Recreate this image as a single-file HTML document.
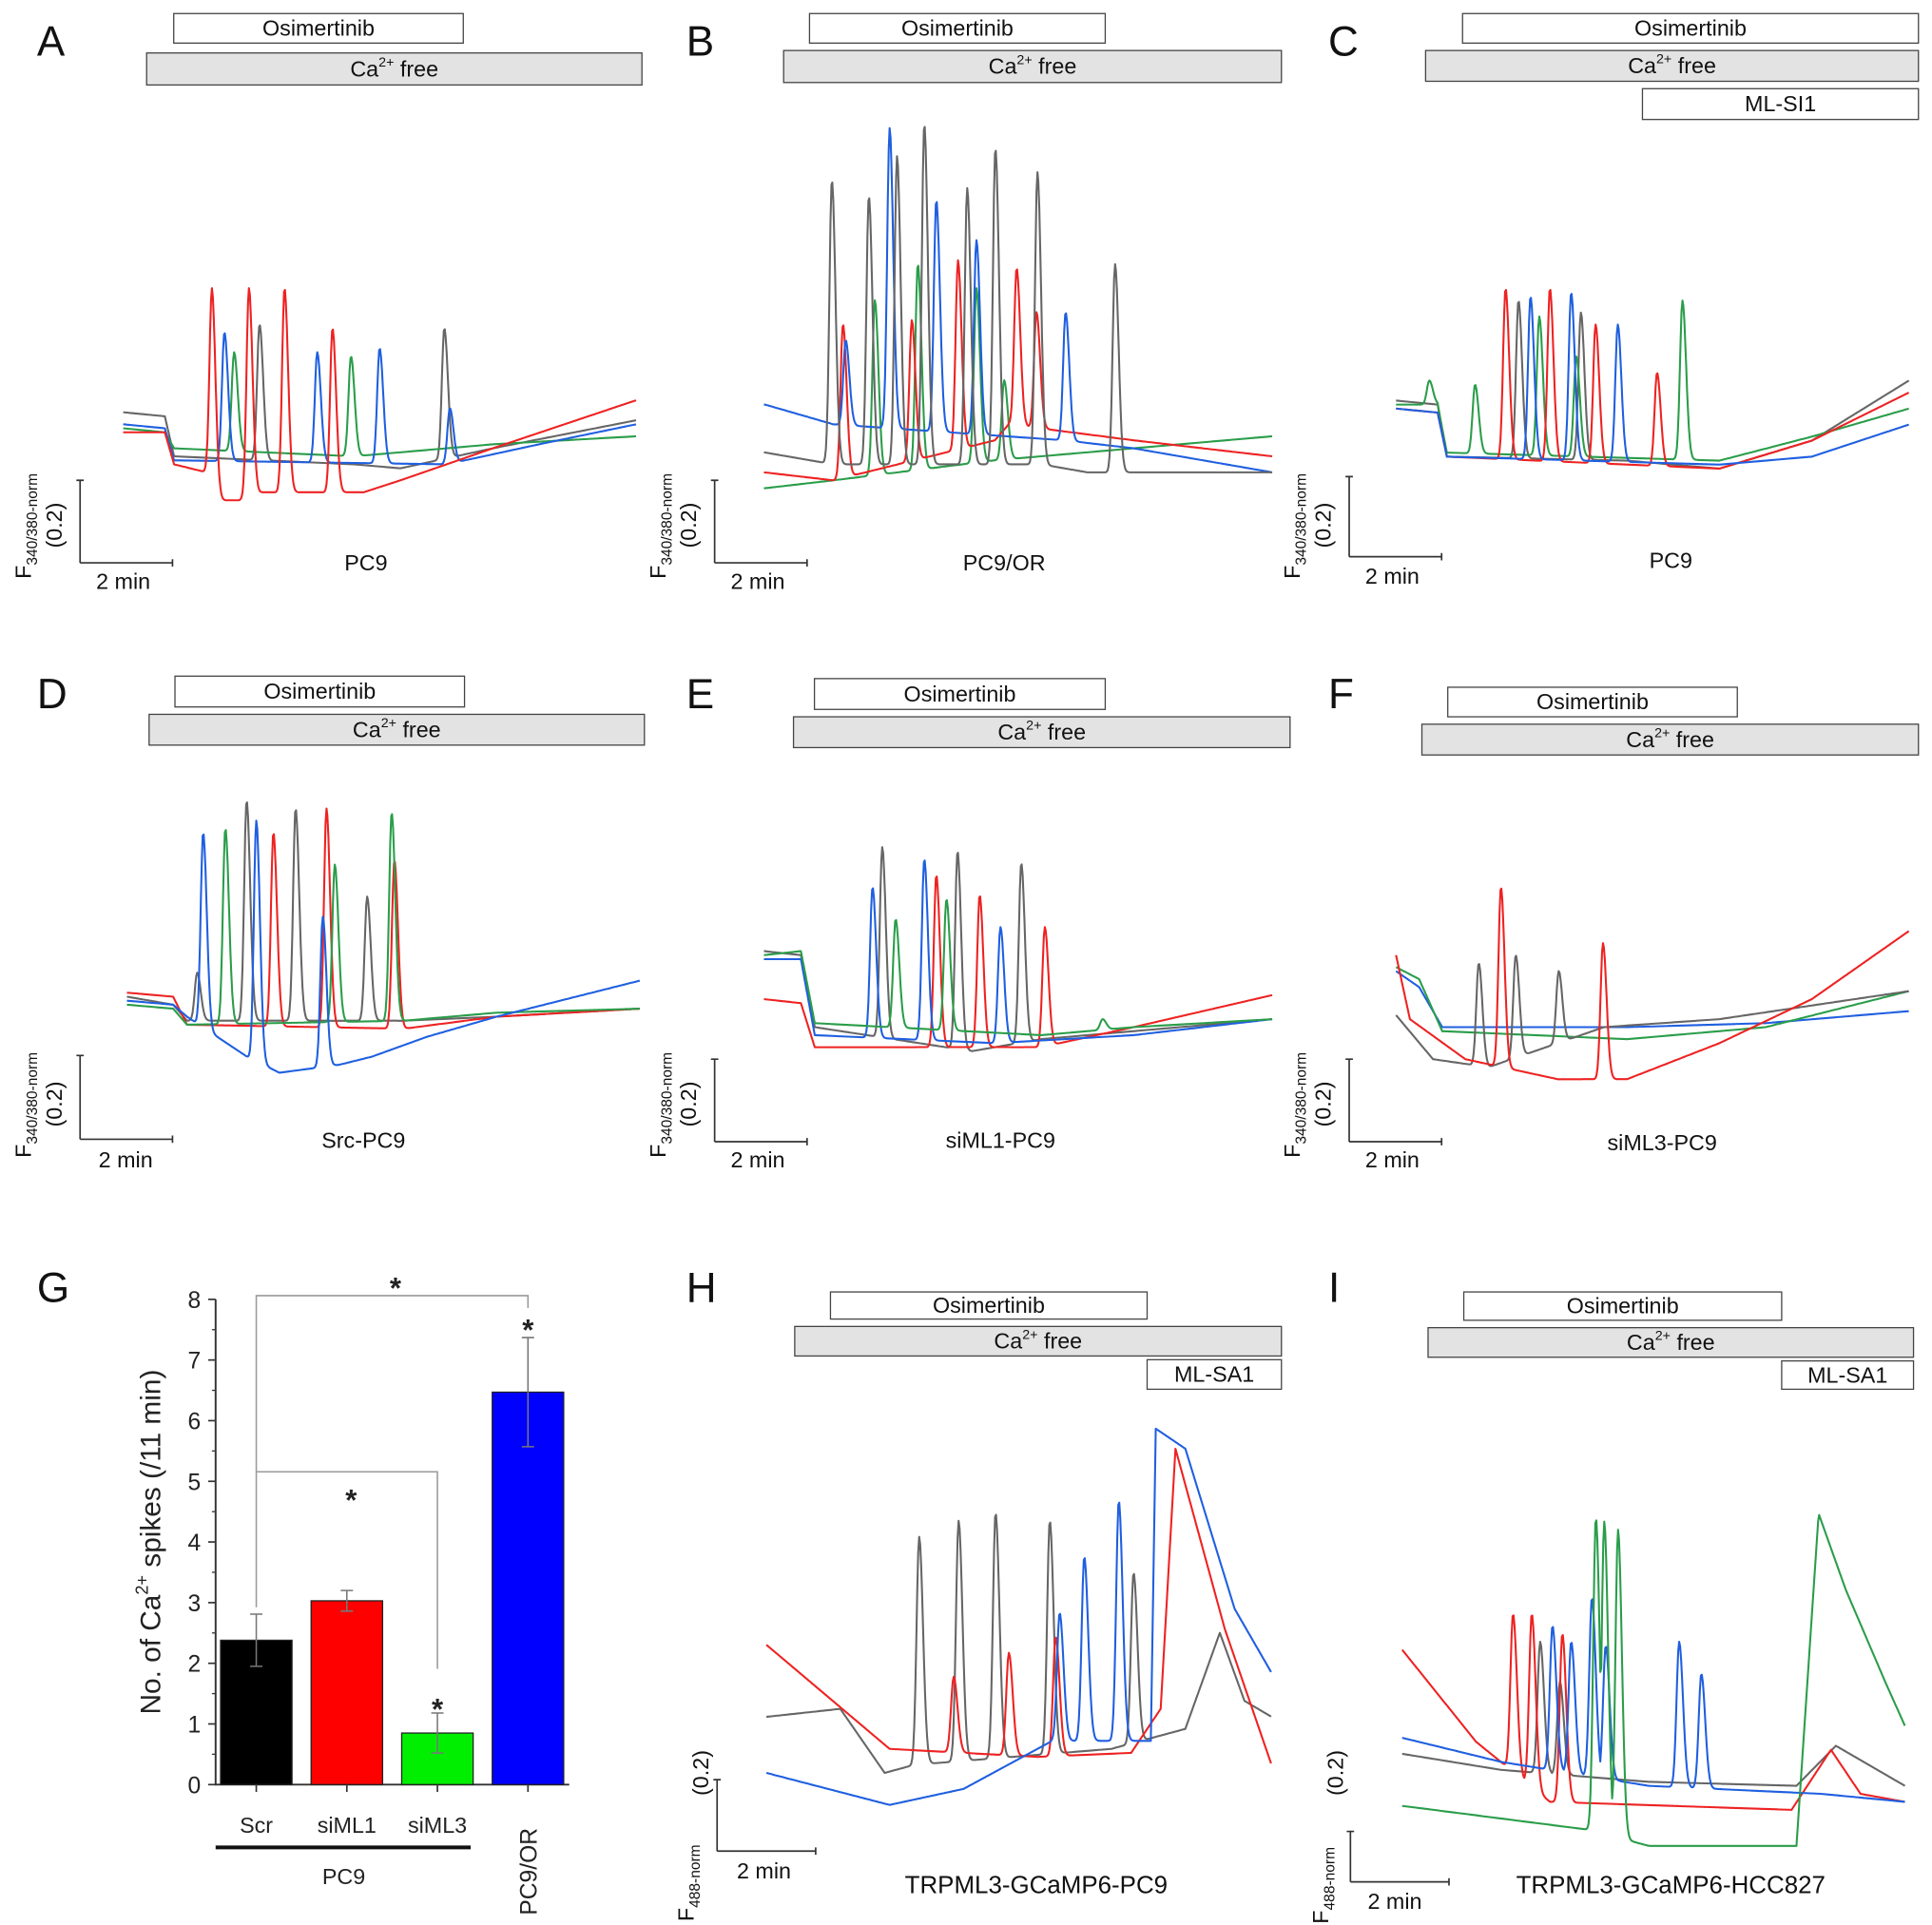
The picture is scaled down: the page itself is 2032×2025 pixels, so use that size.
<!DOCTYPE html>
<html><head><meta charset="utf-8"><style>
html,body{margin:0;padding:0;background:#fff}
svg{display:block;font-family:"Liberation Sans",Arial,sans-serif}
</style></head><body>
<svg id="fig" xmlns="http://www.w3.org/2000/svg" width="2032" height="2025" viewBox="0 0 1568 1563" preserveAspectRatio="none">
<g id="static"></g>
<g id="traces"></g>
<g id="bars"></g>
</svg>
<script>
// ---------- Bar chart data (panel G) ----------
const barCategories = ["Scr","siML1","siML3","PC9/OR"];
const barValues = [2.38, 3.03, 0.85, 6.47];
const barErrors = [0.43, 0.17, 0.33, 0.9];
const barColors = ["#000000","#ff0000","#00ee00","#0000ff"];
const barTicks = [0,1,2,3,4,5,6,7,8];

// ---------- Trace data: [minute, F value] baseline keypoints, spikes [minute, peak] ----------
const aGrayBase=[[0,.37],[.9,.36],[1.1,.26],[5,.24],[6,.23],[8,.28],[11.1,.35]];
const aGraySpk=[[2.95,.59],[6.95,.58]];
const aRedBase=[[0,.32],[.9,.32],[1.1,.24],[1.8,.22],[2,.15],[2.5,.15],[3,.17],[5.2,.17],[6,.2],[8,.28],[11.1,.40]];
const aRedSpk=[[1.92,.68],[2.72,.68],[3.49,.68],[4.53,.58]];
const aBlueBase=[[0,.34],[.9,.33],[1.1,.25],[7,.24],[9,.29],[11.1,.34]];
const aBlueSpk=[[2.19,.57],[4.2,.52],[5.55,.53],[7.07,.38]];
const aGreenBase=[[0,.33],[.9,.32],[1.1,.28],[5,.26],[8,.29],[11.1,.31]];
const aGreenSpk=[[2.4,.52],[4.93,.51]];
const bGrayBase=[[0,.27],[1.5,.24],[6,.24],[7,.22],[11,.22]];
const bGraySpk=[[1.47,.95],[2.27,.91],[2.88,1.01],[3.47,1.09],[4.4,.93],[5.01,1.03],[5.92,.97],[7.6,.74]];
const bBlueBase=[[0,.39],[1.5,.34],[6.5,.3],[8,.28],[11,.22]];
const bBlueSpk=[[1.77,.55],[2.72,1.08],[3.73,.9],[4.6,.8],[6.53,.62]];
const bRedBase=[[0,.22],[1.5,.2],[5,.3],[5.3,.34],[8,.3],[11,.26]];
const bRedSpk=[[1.71,.59],[3.2,.6],[4.2,.75],[5.47,.73],[5.9,.62]];
const bGreenBase=[[0,.18],[1.5,.2],[5,.25],[8,.28],[11,.31]];
const bGreenSpk=[[2.4,.65],[3.33,.74],[4.6,.68],[5.2,.45]];
const cGrayBase=[[0,.39],[.9,.38],[1.1,.25],[5,.24],[7,.22],[9,.29],[11.1,.44]];
const cGraySpk=[[2.65,.64],[4.0,.61]];
const cRedBase=[[0,.37],[.9,.36],[1.1,.25],[7,.22],[9,.29],[11.1,.41]];
const cRedSpk=[[2.37,.67],[3.33,.67],[4.32,.58],[5.65,.46]];
const cBlueBase=[[0,.37],[.9,.36],[1.1,.25],[7,.23],[9,.25],[11.1,.33]];
const cBlueSpk=[[2.91,.65],[3.79,.66],[4.8,.58]];
const cGreenBase=[[0,.38],[.9,.38],[1.1,.26],[7,.24],[9,.3],[11.1,.37]];
const cGreenSpk=[[.72,.44],[1.71,.43],[3.1,.6],[3.9,.5],[6.2,.64]];
const dGrayBase=[[0,.35],[1,.33],[1.3,.29],[6,.29],[8,.3],[11.1,.32]];
const dGraySpk=[[1.52,.41],[2.59,.84],[3.65,.82],[5.2,.6]];
const dBlueBase=[[0,.34],[1,.33],[1.3,.3],[2.6,.2],[3.3,.16],[4.6,.18],[5.3,.2],[6.5,.25],[8,.3],[11.1,.39]];
const dBlueSpk=[[1.65,.76],[2.8,.79],[4.24,.55]];
const dGreenBase=[[0,.33],[1,.32],[1.3,.28],[6,.29],[8,.31],[11.1,.32]];
const dGreenSpk=[[2.13,.77],[4.5,.68],[5.73,.81]];
const dRedBase=[[0,.36],[1,.35],[1.3,.28],[6,.27],[8,.3],[11.1,.32]];
const dRedSpk=[[3.17,.76],[4.32,.82],[5.79,.69]];
const eGrayBase=[[0,.47],[.8,.46],[1.1,.28],[4.5,.22],[6,.25],[11,.3]];
const eGraySpk=[[2.56,.73],[4.19,.72],[5.57,.69]];
const eBlueBase=[[0,.45],[.8,.45],[1.1,.26],[5,.24],[8,.26],[11,.3]];
const eBlueSpk=[[2.35,.63],[3.47,.7],[5.12,.53]];
const eRedBase=[[0,.35],[.8,.34],[1.1,.23],[6,.23],[8,.28],[11,.36]];
const eRedSpk=[[3.73,.66],[4.67,.61],[6.08,.53]];
const eGreenBase=[[0,.46],[.8,.47],[1.1,.29],[6,.26],[8,.28],[11,.3]];
const eGreenSpk=[[2.85,.55],[3.95,.6],[7.33,.3]];
const fGrayBase=[[0,.31],[.8,.2],[2,.18],[4.5,.28],[7,.3],[11.1,.37]];
const fGraySpk=[[1.79,.44],[2.59,.46],[3.52,.42]];
const fRedBase=[[0,.46],[.3,.3],[1.5,.2],[3.5,.15],[5,.15],[7,.24],[9,.35],[11.1,.52]];
const fRedSpk=[[2.27,.63],[4.48,.49]];
const fBlueBase=[[0,.42],[.5,.38],[1,.28],[5,.28],[8,.29],[11.1,.32]];
const fBlueSpk=[];
const fGreenBase=[[0,.43],[.5,.4],[1,.27],[5,.25],[8,.28],[11.1,.37]];
const fGreenSpk=[];
const hGrayBase=[[0,.28],[1.5,.3],[2.4,.14],[3,.16],[7,.2],[8.5,.25],[9.2,.49],[9.7,.32],[10.25,.28]];
const hGraySpk=[[3.1,.73],[3.9,.77],[4.65,.79],[5.75,.77],[7.45,.64]];
const hRedBase=[[0,.46],[2.5,.2],[5.5,.18],[7.4,.19],[8,.3],[8.3,.95],[9.3,.5],[10.25,.16]];
const hRedSpk=[[3.8,.38],[4.92,.44],[5.87,.48]];
const hBlueBase=[[0,.14],[2.5,.06],[4,.1],[5.8,.22],[7.8,.22],[7.9,1.0],[8.5,.95],[9.5,.55],[10.25,.39]];
const hBlueSpk=[[5.95,.54],[6.45,.68],[7.15,.82],[8.9,.48]];
const iRedBase=[[0,.58],[1.5,.35],[3,.2],[7.9,.18],[8.7,.33],[9.3,.22],[10.2,.2]];
const iRedSpk=[[2.25,.67],[2.63,.67],[3.25,.62]];
const iGreenBase=[[0,.19],[3.8,.13],[5,.09],[8,.09],[8.45,.92],[9.0,.73],[9.8,.5],[10.2,.39]];
const iGreenSpk=[[3.93,.91],[4.1,.9],[4.38,.88]];
const iBlueBase=[[0,.36],[2,.3],[5,.24],[8.5,.22],[10.2,.2]];
const iBlueSpk=[[3.05,.64],[3.43,.6],[3.85,.71],[4.13,.59],[5.62,.6],[6.07,.52]];
const iGrayBase=[[0,.32],[2,.28],[5,.25],[8,.24],[8.8,.34],[10.2,.24]];
const iGraySpk=[[2.8,.6],[3.2,.5]];

const NS="http://www.w3.org/2000/svg";
function mk(parent,tag,attrs){const e=document.createElementNS(NS,tag);for(const k in attrs)e.setAttribute(k,attrs[k]);parent.appendChild(e);return e;}
const S=document.getElementById('static'),T=document.getElementById('traces'),B=document.getElementById('bars');
const COL={gray:"#666666",red:"#ee2222",blue:"#1f5fe0",green:"#2a9d4a"};

function interp(base,t){if(t<=base[0][0])return base[0][1];for(let i=1;i<base.length;i++){if(t<=base[i][0]){const a=base[i-1],b=base[i];return a[1]+(b[1]-a[1])*(t-a[0])/(b[0]-a[0]);}}return base[base.length-1][1];}
function shape(d){return d<0?Math.exp(-(d/0.075)*(d/0.075)):Math.exp(-(d/0.11)*(d/0.11));}
function tracePts(base,spk,tmax){
  const pts=[];
  for(let t=0;t<=tmax+1e-9;t+=0.02){
    const b=interp(base,t);let v=b;
    spk.forEach(s=>{const c=b+(s[1]-interp(base,s[0]))*shape(t-s[0]);if(c>v)v=c;});
    pts.push([t,v]);
  }
  return pts;
}
function drawTrace(panel,name,color,base,spk){
  const pts=tracePts(base,spk,panel.tmax);
  const d=pts.map(p=>(panel.x0+p[0]*panel.pxMin).toFixed(1)+","+(panel.yb-p[1]*panel.pxF).toFixed(1)).join(" ");
  const el=mk(T,'polyline',{points:d,fill:'none',stroke:color,'stroke-width':1.6,'stroke-linejoin':'round'});
  
  
}
const panels={
 A:{x0:100,yb:455,pxMin:37.5,pxF:325,tmax:11.1},
 B:{x0:620,yb:455,pxMin:37.5,pxF:325,tmax:11},
 C:{x0:1133,yb:452,pxMin:37.5,pxF:325,tmax:11.1},
 D:{x0:103,yb:923,pxMin:37.5,pxF:325,tmax:11.1},
 E:{x0:620,yb:925,pxMin:37.5,pxF:325,tmax:11},
 F:{x0:1133,yb:925,pxMin:37.5,pxF:325,tmax:11.1},
 H:{x0:622,yb:1485,pxMin:40,pxF:325,tmax:10.25},
 I:{x0:1138,yb:1528,pxMin:40,pxF:325,tmax:10.2}
};
drawTrace(panels.A,'a-trace-gray',COL.gray,aGrayBase,aGraySpk);
drawTrace(panels.A,'a-trace-green',COL.green,aGreenBase,aGreenSpk);
drawTrace(panels.A,'a-trace-blue',COL.blue,aBlueBase,aBlueSpk);
drawTrace(panels.A,'a-trace-red',COL.red,aRedBase,aRedSpk);
drawTrace(panels.B,'b-trace-green',COL.green,bGreenBase,bGreenSpk);
drawTrace(panels.B,'b-trace-red',COL.red,bRedBase,bRedSpk);
drawTrace(panels.B,'b-trace-blue',COL.blue,bBlueBase,bBlueSpk);
drawTrace(panels.B,'b-trace-gray',COL.gray,bGrayBase,bGraySpk);
drawTrace(panels.C,'c-trace-gray',COL.gray,cGrayBase,cGraySpk);
drawTrace(panels.C,'c-trace-green',COL.green,cGreenBase,cGreenSpk);
drawTrace(panels.C,'c-trace-red',COL.red,cRedBase,cRedSpk);
drawTrace(panels.C,'c-trace-blue',COL.blue,cBlueBase,cBlueSpk);
drawTrace(panels.D,'d-trace-gray',COL.gray,dGrayBase,dGraySpk);
drawTrace(panels.D,'d-trace-red',COL.red,dRedBase,dRedSpk);
drawTrace(panels.D,'d-trace-green',COL.green,dGreenBase,dGreenSpk);
drawTrace(panels.D,'d-trace-blue',COL.blue,dBlueBase,dBlueSpk);
drawTrace(panels.E,'e-trace-gray',COL.gray,eGrayBase,eGraySpk);
drawTrace(panels.E,'e-trace-red',COL.red,eRedBase,eRedSpk);
drawTrace(panels.E,'e-trace-blue',COL.blue,eBlueBase,eBlueSpk);
drawTrace(panels.E,'e-trace-green',COL.green,eGreenBase,eGreenSpk);
drawTrace(panels.F,'f-trace-blue',COL.blue,fBlueBase,fBlueSpk);
drawTrace(panels.F,'f-trace-green',COL.green,fGreenBase,fGreenSpk);
drawTrace(panels.F,'f-trace-gray',COL.gray,fGrayBase,fGraySpk);
drawTrace(panels.F,'f-trace-red',COL.red,fRedBase,fRedSpk);
drawTrace(panels.H,'h-trace-gray',COL.gray,hGrayBase,hGraySpk);
drawTrace(panels.H,'h-trace-red',COL.red,hRedBase,hRedSpk);
drawTrace(panels.H,'h-trace-blue',COL.blue,hBlueBase,hBlueSpk);
drawTrace(panels.I,'i-trace-gray',COL.gray,iGrayBase,iGraySpk);
drawTrace(panels.I,'i-trace-red',COL.red,iRedBase,iRedSpk);
drawTrace(panels.I,'i-trace-blue',COL.blue,iBlueBase,iBlueSpk);
drawTrace(panels.I,'i-trace-green',COL.green,iGreenBase,iGreenSpk);

// ---------- static labels / boxes ----------
function txt(x,y,s,size,name,extra){const e=mk(S,'text',Object.assign({x:x,y:y,'font-size':size,fill:'#111'},extra||{}));e.textContent=s;return e;}
function box(x1,y1,x2,y2,fill,label,name,ca){
  const r=mk(S,'rect',{x:x1,y:y1,width:x2-x1,height:y2-y1,fill:fill,stroke:'#444','stroke-width':1});
  
  const cx=(x1+x2)/2,cy=(y1+y2)/2+6;
  if(ca){const t=txt(cx,cy,'',18,name+'-label',{'text-anchor':'middle'});
    t.innerHTML='Ca<tspan font-size="11" dy="-8">2+</tspan><tspan dy="8"> free</tspan>';}
  else txt(cx,cy,label,18,name+'-label',{'text-anchor':'middle'});
}
function letter(x,y,s){txt(x,y,s,34,'panel-label-'+s.toLowerCase());}
function scale(x,ytop,ybot,xend,hy,sub,name,fX,fY,ampX,ampY,minX,minY){
  const g=mk(S,'path',{d:`M${x},${ytop} V${ybot} M${x},${hy} H${xend} M${x-3},${ytop} h6 M${xend},${hy-3} v6`,stroke:'#333','stroke-width':1.3,fill:'none'});
  
  txt(minX,minY,'2 min',18,name+'-time-label');
  const t=txt(0,0,'',18,name+'-f-label',{transform:`translate(${fX},${fY}) rotate(-90)`});
  t.innerHTML=`F<tspan font-size="12" dy="5">${sub}</tspan>`;
  txt(0,0,'(0.2)',18,name+'-amp-label',{transform:`translate(${ampX},${ampY}) rotate(-90)`});
}
letter(30,45,'A');letter(557,45,'B');letter(1078,45,'C');
letter(30,575,'D');letter(557,575,'E');letter(1078,575,'F');
letter(30,1057,'G');letter(557,1057,'H');letter(1078,1057,'I');

box(141,11,376,35,'#fff','Osimertinib','a-osimertinib-bar');box(119,43,521,69,'#e3e3e3','','a-ca-free-bar',1);
box(657,11,897,35,'#fff','Osimertinib','b-osimertinib-bar');box(636,41,1040,67,'#e3e3e3','','b-ca-free-bar',1);
box(1187,11,1557,35,'#fff','Osimertinib','c-osimertinib-bar');box(1157,41,1557,66,'#e3e3e3','','c-ca-free-bar',1);box(1333,72,1557,97,'#fff','ML-SI1','c-mlsi1-bar');
box(142,549,377,574,'#fff','Osimertinib','d-osimertinib-bar');box(121,580,523,605,'#e3e3e3','','d-ca-free-bar',1);
box(661,551,897,576,'#fff','Osimertinib','e-osimertinib-bar');box(644,582,1047,607,'#e3e3e3','','e-ca-free-bar',1);
box(1175,558,1410,582,'#fff','Osimertinib','f-osimertinib-bar');box(1154,588,1557,613,'#e3e3e3','','f-ca-free-bar',1);
box(674,1049,931,1071,'#fff','Osimertinib','h-osimertinib-bar');box(645,1077,1040,1101,'#e3e3e3','','h-ca-free-bar',1);box(931,1104,1040,1128,'#fff','ML-SA1','h-mlsa1-bar');
box(1188,1049,1446,1072,'#fff','Osimertinib','i-osimertinib-bar');box(1159,1078,1553,1102,'#e3e3e3','','i-ca-free-bar',1);box(1446,1105,1553,1128,'#fff','ML-SA1','i-mlsa1-bar');

scale(65,390,457,140,457,'340/380-norm','a-scale-bar',25,470,50,445,78,478);
scale(580,390,457,655,457,'340/380-norm','b-scale-bar',540,470,565,445,593,478);
scale(1095,387,452,1170,452,'340/380-norm','c-scale-bar',1055,470,1080,445,1108,474);
scale(65,857,925,140,925,'340/380-norm','d-scale-bar',25,940,50,915,80,948);
scale(580,860,927,655,927,'340/380-norm','e-scale-bar',540,940,565,915,593,948);
scale(1095,860,927,1170,927,'340/380-norm','f-scale-bar',1055,940,1080,915,1108,948);
scale(582,1445,1503,662,1503,'488-norm','h-scale-bar',563,1560,575,1458,598,1525);
scale(1096,1487,1528,1176,1528,'488-norm','i-scale-bar',1078,1562,1090,1458,1110,1550);

txt(297,463,'PC9',18,'a-cell-label',{'text-anchor':'middle'});
txt(815,463,'PC9/OR',18,'b-cell-label',{'text-anchor':'middle'});
txt(1356,461,'PC9',18,'c-cell-label',{'text-anchor':'middle'});
txt(295,932,'Src-PC9',18,'d-cell-label',{'text-anchor':'middle'});
txt(812,932,'siML1-PC9',18,'e-cell-label',{'text-anchor':'middle'});
txt(1349,934,'siML3-PC9',18,'f-cell-label',{'text-anchor':'middle'});
txt(841,1537,'TRPML3-GCaMP6-PC9',20,'h-cell-label',{'text-anchor':'middle'});
txt(1356,1537,'TRPML3-GCaMP6-HCC827',20,'i-cell-label',{'text-anchor':'middle'});

// ---------- bar chart ----------
const gx0=175,gx1=462,gy0=1449,gyTop=1055;
const yScale=v=>gy0-(v/8)*(gy0-gyTop);
const xCenter=i=>208+i*73.5;
function gel(tag,attrs,name){const e=mk(B,tag,attrs);return e;}
gel('path',{d:`M${gx0},${gyTop} V${gy0} H${gx1}`,stroke:'#333','stroke-width':1.5,fill:'none'},'g-axes');
barTicks.forEach(v=>{
  gel('line',{x1:gx0-6,x2:gx0,y1:yScale(v),y2:yScale(v),stroke:'#333','stroke-width':1.3},'g-y-tick');
  if(v<8)gel('line',{x1:gx0-3,x2:gx0,y1:yScale(v+0.5),y2:yScale(v+0.5),stroke:'#333','stroke-width':1},'g-y-minor-tick');
  const t=gel('text',{x:gx0-12,y:yScale(v)+7,'font-size':19,'text-anchor':'end',fill:'#222'},'g-y-tick-label');t.textContent=v;
});
barCategories.forEach((c,i)=>{
  const cx=xCenter(i),w=58;
  gel('rect',{x:cx-w/2,y:yScale(barValues[i]),width:w,height:gy0-yScale(barValues[i]),fill:barColors[i],stroke:'#222','stroke-width':1},'g-bar-'+c.toLowerCase().replace('/','-'));
  const yt=yScale(barValues[i]+barErrors[i]),yb=yScale(barValues[i]-barErrors[i]);
  gel('path',{d:`M${cx},${yt} V${yb} M${cx-5},${yt} h10 M${cx-5},${yb} h10`,stroke:'#777','stroke-width':1.2,fill:'none'},'g-error-bar');
  gel('line',{x1:cx,x2:cx,y1:gy0,y2:gy0+6,stroke:'#333','stroke-width':1.3},'g-x-tick');
  if(i<3){const t=gel('text',{x:cx,y:1488,'font-size':18,'text-anchor':'middle',fill:'#222'},'g-x-label');t.textContent=c;}
  else{const t=gel('text',{transform:`translate(${cx+7},1555) rotate(-90)`,'font-size':19,fill:'#222'},'g-x-label');t.textContent=c;}
});
gel('line',{x1:175,x2:382,y1:1500,y2:1500,stroke:'#111','stroke-width':3},'g-pc9-group-line');
(gel('text',{x:279,y:1530,'font-size':18,'text-anchor':'middle',fill:'#222'},'g-pc9-group-label')).textContent='PC9';
gel('path',{d:`M${xCenter(0)},1305 V1195 H${xCenter(2)} V1355`,stroke:'#999','stroke-width':1.2,fill:'none'},'g-sig-bracket-siml3');
gel('path',{d:`M${xCenter(0)},1195 V1052 H${xCenter(3)} V1062`,stroke:'#999','stroke-width':1.2,fill:'none'},'g-sig-bracket-pc9or');
[[285,1226],[321,1054],[xCenter(2),1396],[xCenter(3),1088]].forEach(p=>{const t=gel('text',{x:p[0],y:p[1],'font-size':24,'font-weight':'bold','text-anchor':'middle',fill:'#222'},'g-significance-star');t.textContent='*';});
const yl=gel('text',{transform:'translate(130,1252) rotate(-90)','font-size':23,'text-anchor':'middle',fill:'#222'},'g-y-axis-title');
yl.innerHTML='No. of Ca<tspan font-size="14" dy="-10">2+</tspan><tspan dy="10"> spikes (/11 min)</tspan>';
</script>
</body></html>
